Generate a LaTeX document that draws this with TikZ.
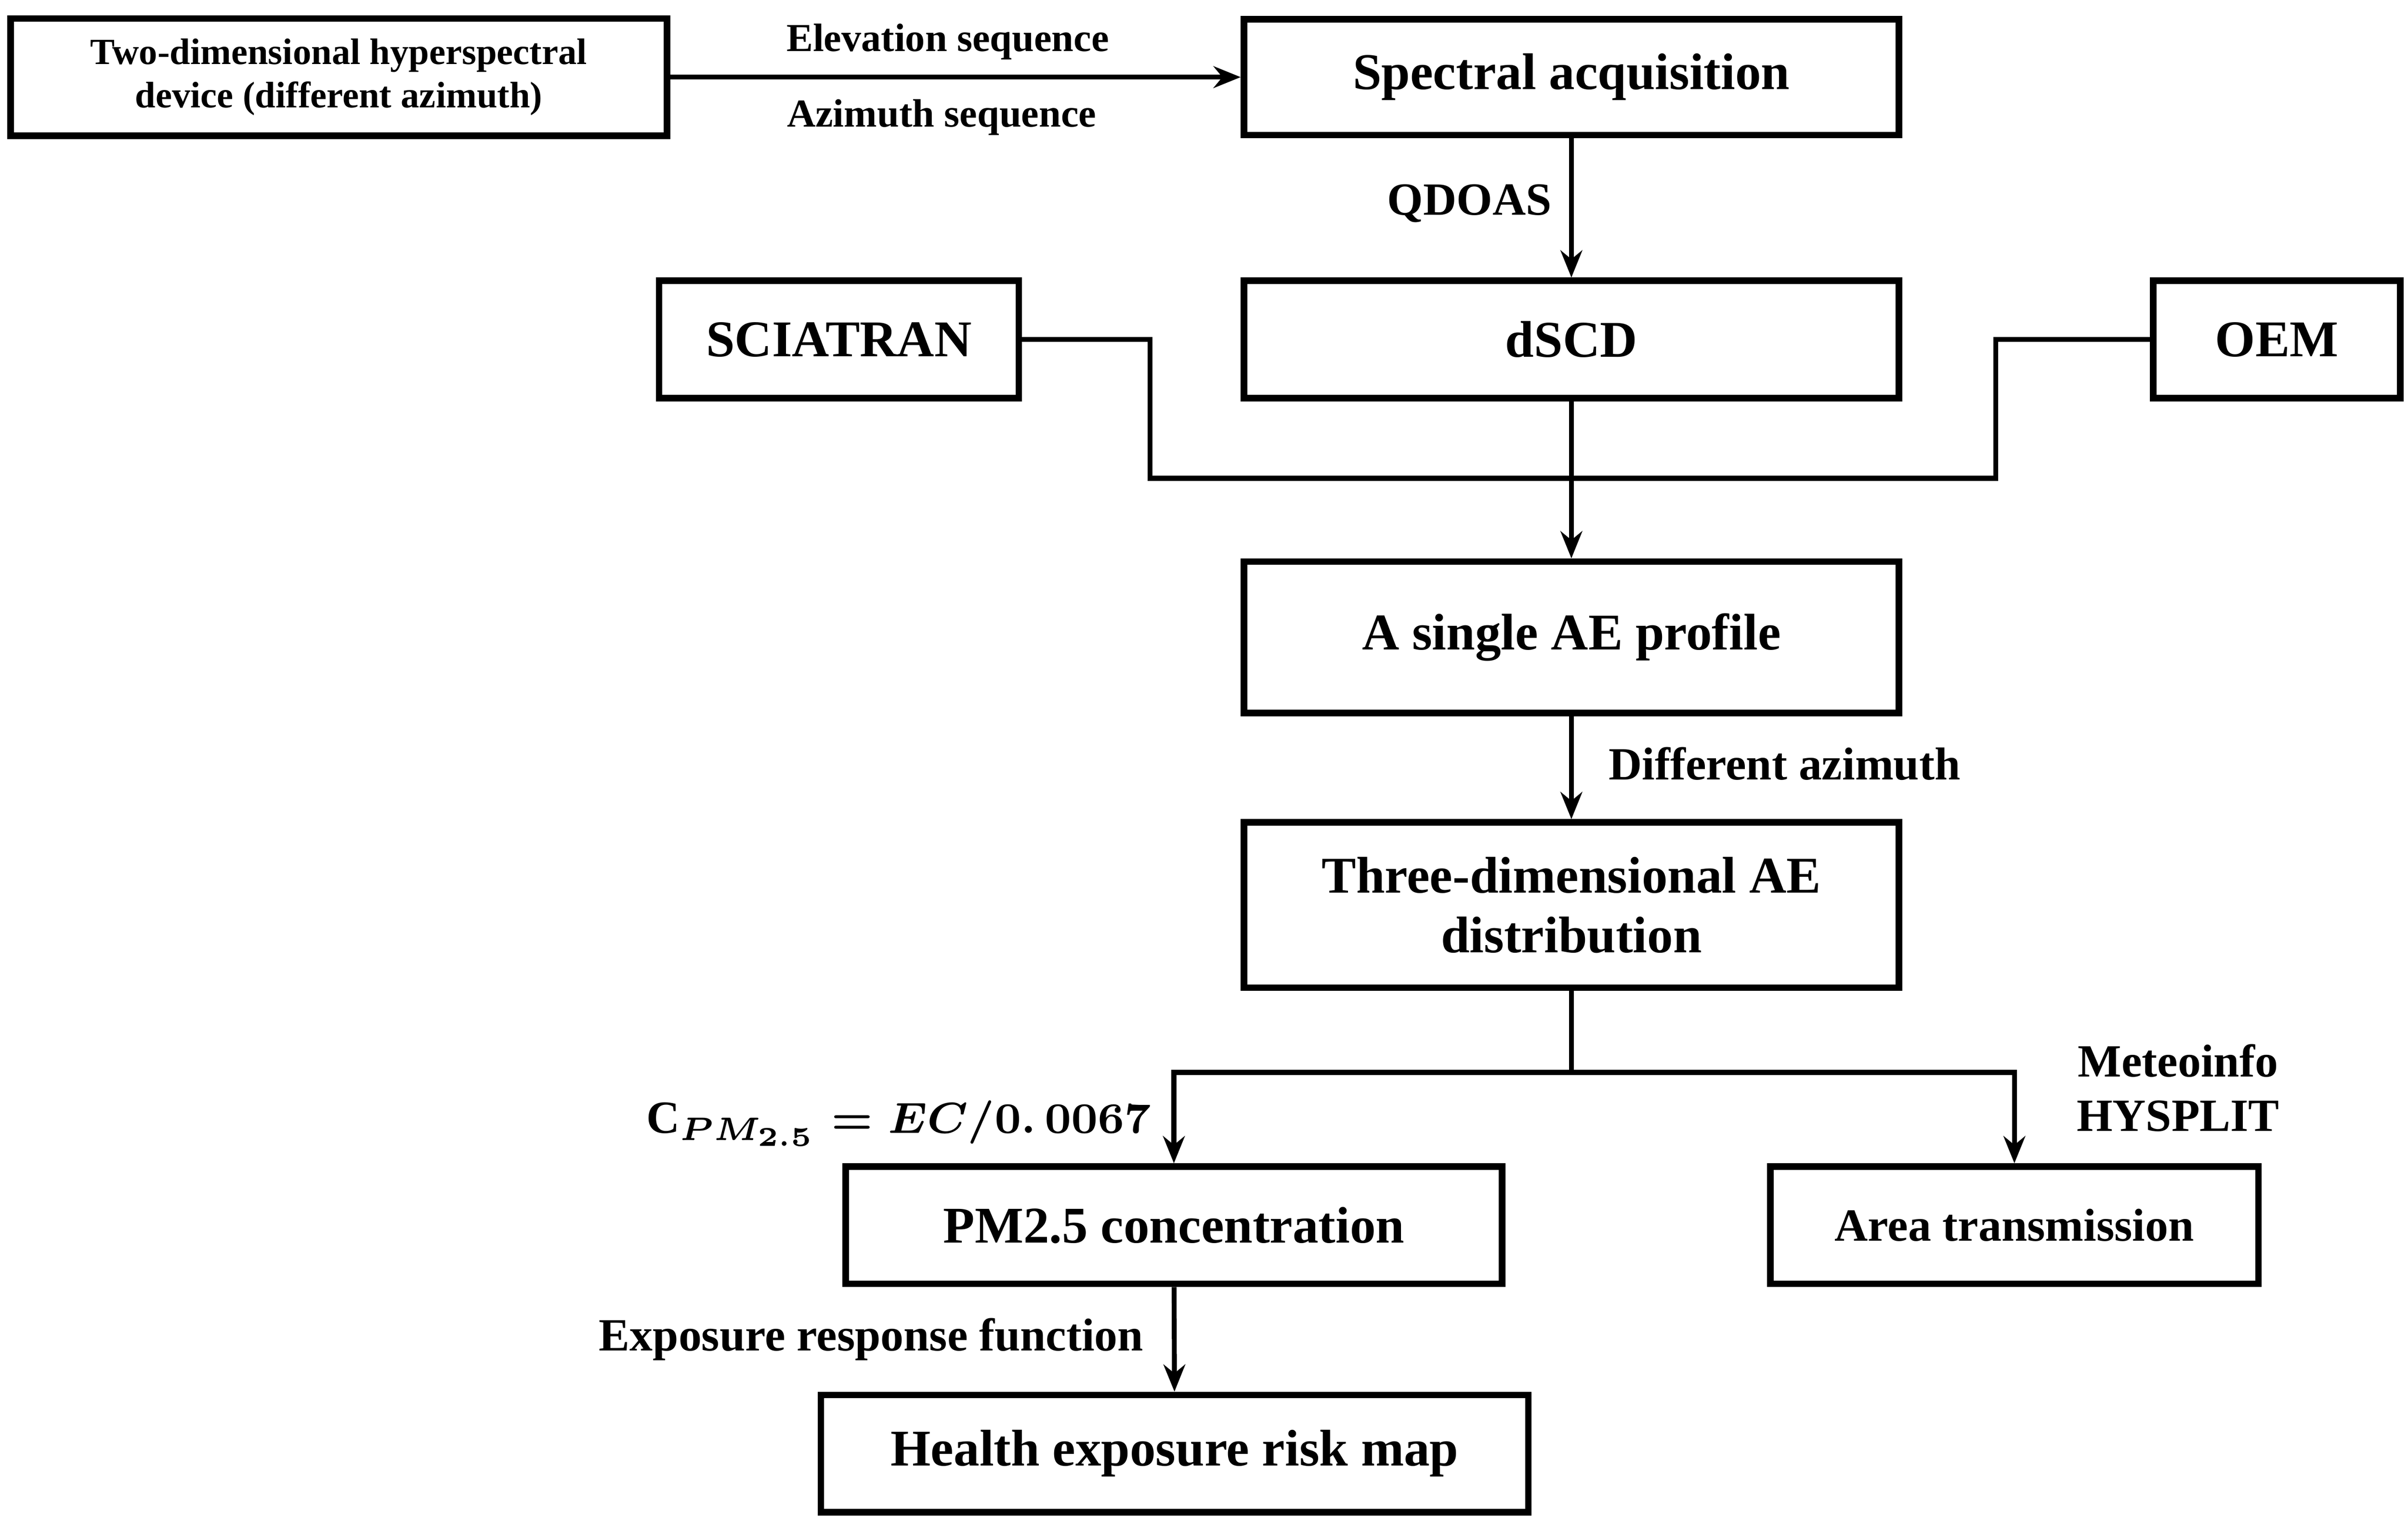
\documentclass[tikz,border=0pt]{standalone}
\usepackage{fontspec}
\setmainfont{Liberation Serif}
\usetikzlibrary{arrows.meta}
\newcommand{\pmeq}{\mbox{\boldmath$\mathrm{C}_{PM_{2.5}}=EC/0.\,0067$}}
\tikzset{
  box/.style={draw, line width=1.2pt, font=\bfseries\fontsize{9.5}{11}\selectfont, align=center, inner sep=0pt},
  lab/.style={font=\bfseries\fontsize{8.5}{10}\selectfont, inner sep=1pt},
  small/.style={font=\bfseries\fontsize{6.8}{8}\selectfont},
  line/.style={line width=0.9pt},
  arr/.style={line width=0.9pt, -{Stealth[length=5pt,width=4pt]}}
}
\begin{document}
\begin{tikzpicture}[x=0.01cm, y=-0.01cm]
  \useasboundingbox (0,0) rectangle (1560,992);
  % boxes
  \node [box, small, minimum width=4.25cm, minimum height=0.76cm] (dev) at (219.5,50) {Two-dimensional hyperspectral\\device (different azimuth)};
  \node [box, minimum width=4.24cm, minimum height=0.75cm] (spec) at (1018,50) {Spectral acquisition};
  \node [box, minimum width=4.24cm, minimum height=0.76cm] (dscd) at (1018,220) {dSCD};
  \node [box, minimum width=2.33cm, minimum height=0.76cm] (scia) at (543.5,220) {SCIATRAN};
  \node [box, minimum width=1.6cm, minimum height=0.76cm] (oem) at (1475,220) {OEM};
  \node [box, minimum width=4.24cm, minimum height=0.98cm] (prof) at (1018,413) {A single AE profile};
  \node [box, minimum width=4.24cm, minimum height=1.07cm] (dist) at (1018,586.5) {Three-dimensional AE\\distribution};
  \node [box, minimum width=4.25cm, minimum height=0.76cm] (pm) at (760.5,794) {PM2.5 concentration};
  \node [box, font=\bfseries\fontsize{8.5}{10}\selectfont, minimum width=3.16cm, minimum height=0.76cm] (area) at (1305,794) {Area transmission};
  \node [box, minimum width=4.58cm, minimum height=0.76cm] (risk) at (761,942) {Health exposure risk map};
  % junctions
  \coordinate (bus) at (1018,310);
  \coordinate (fork) at (1018,695);
  % connectors
  \draw [arr] (dev) -- (spec);
  \draw [arr] (spec) -- (dscd);
  \draw [arr] (dscd) -- (prof);
  \draw [line] (scia.east) -- (745,220) |- (bus) -| (1293,220) -- (oem.west);
  \draw [arr] (prof) -- (dist);
  \draw [line] (dist) -- (fork);
  \draw [arr] (fork) -| (pm.north);
  \draw [arr] (fork) -| (area.north);
  \draw [arr] (pm) -- (risk);
  % labels
  \node [lab, font=\bfseries\fontsize{7.3}{9}\selectfont] (elev) at (614,27) {Elevation sequence};
  \node [lab, font=\bfseries\fontsize{7.3}{9}\selectfont] (azim) at (610,76) {Azimuth sequence};
  \node [lab] (qdoas) at (952,132) {QDOAS};
  \node [lab, anchor=west] (diff) at (1038,495) {Different azimuth};
  \node [lab, anchor=east] (eq) at (750,728) {\pmeq};
  \node [lab, align=center] (met) at (1411,705) {Meteoinfo\\HYSPLIT};
  \node [lab, anchor=east] (erf) at (745,868) {Exposure response function};
\end{tikzpicture}
\end{document}
